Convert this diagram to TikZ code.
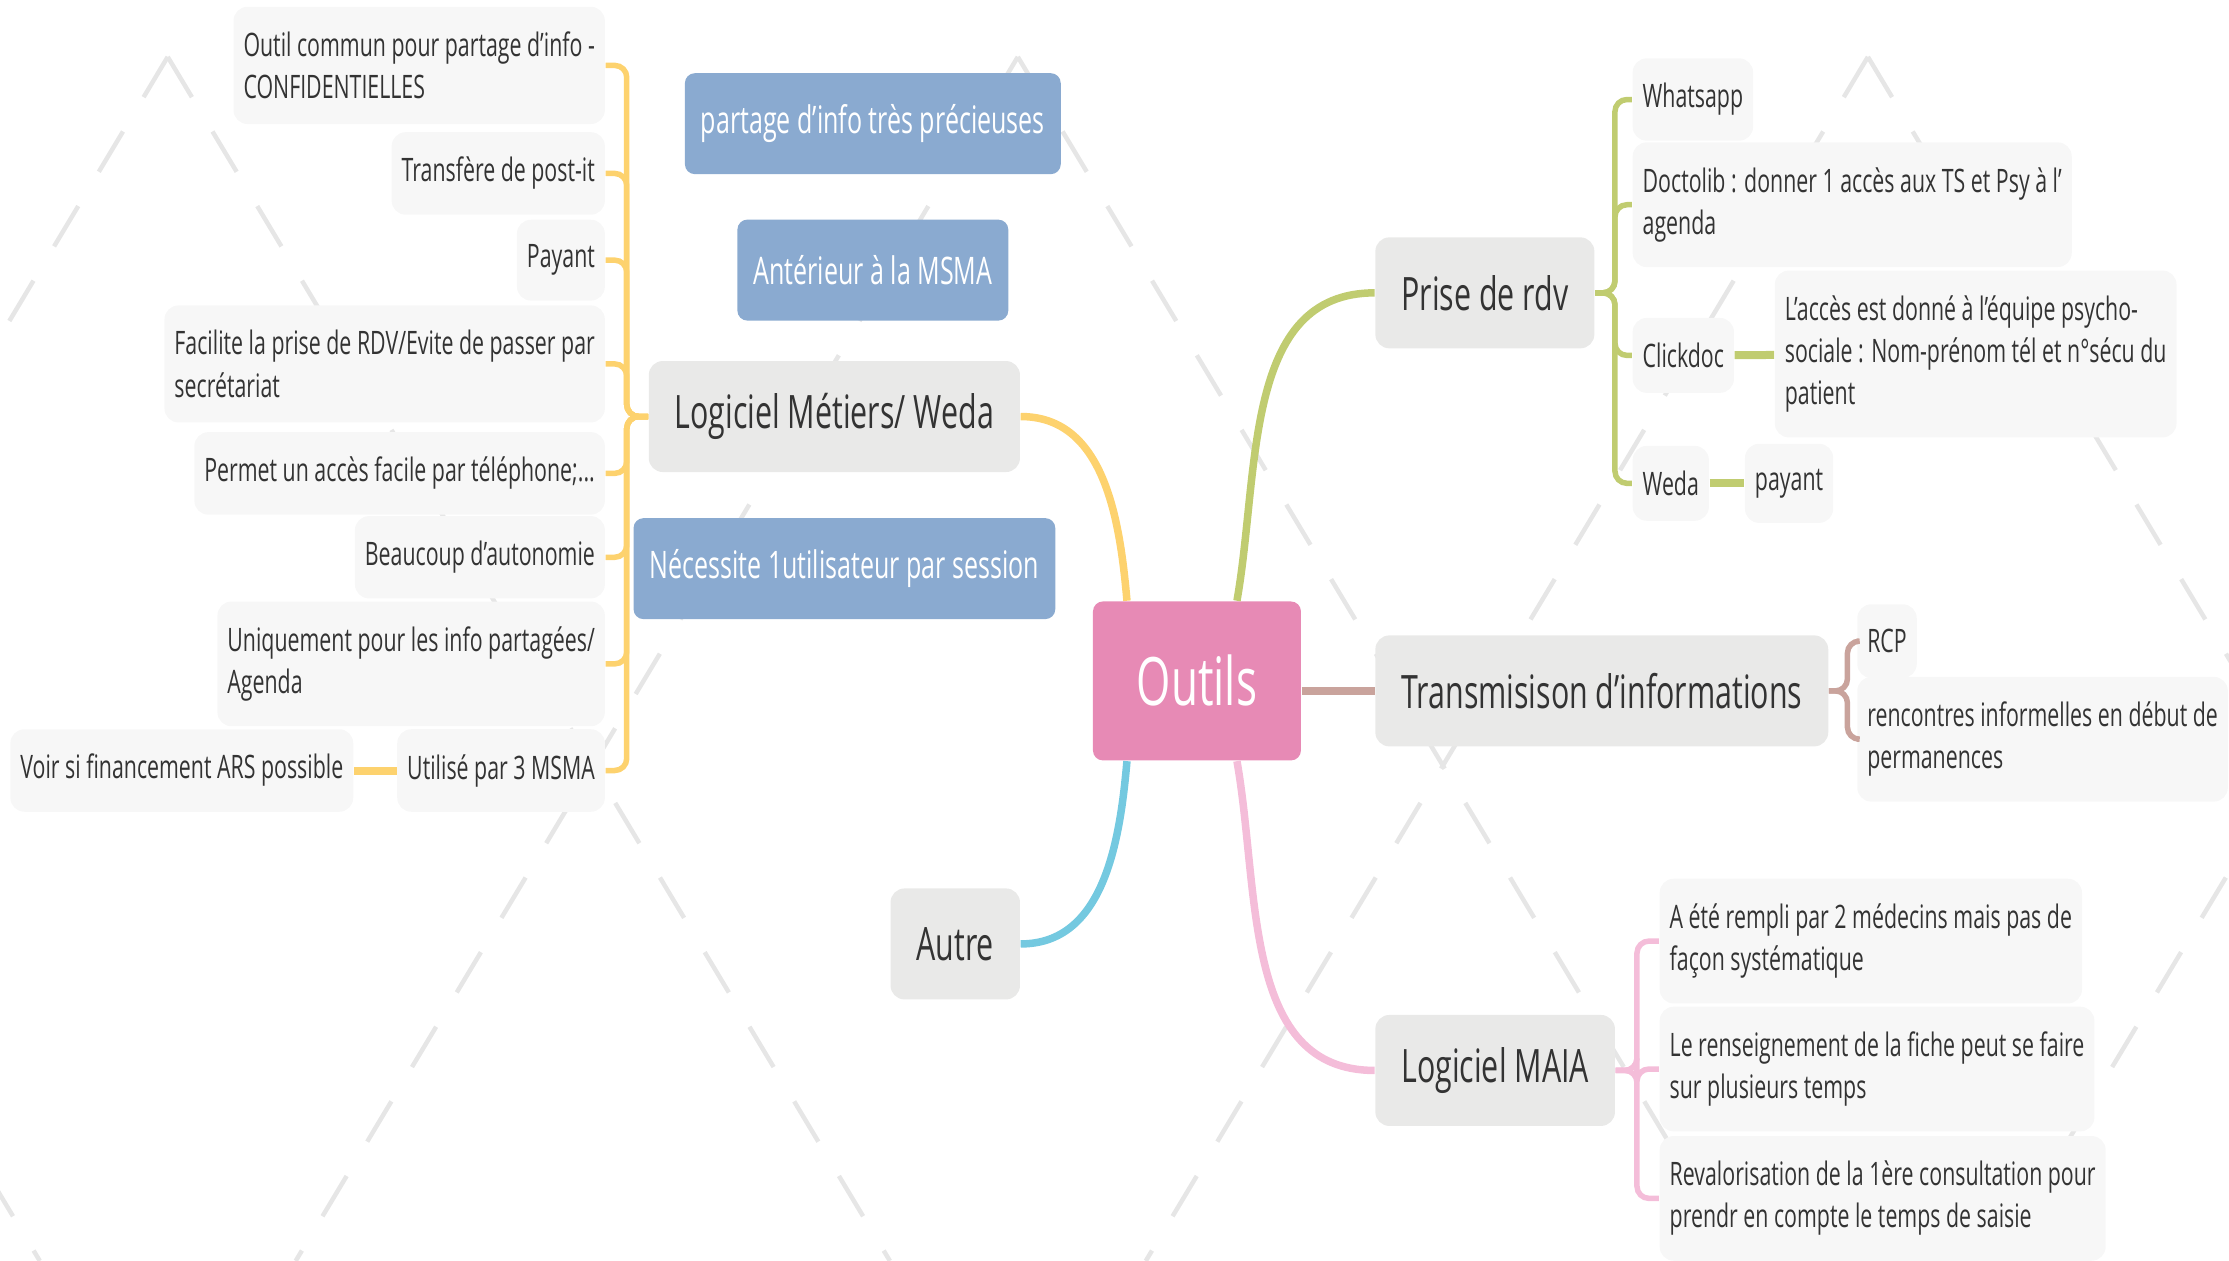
\documentclass[tikz,border=0pt]{standalone}
\usepackage{fontspec}
\setmainfont{Open Sans}[FakeStretch=0.66]
\usepackage{tikz}
\usetikzlibrary{
    backgrounds,  % background layers
    positioning,  % better custom positioning
}
\definecolor{txtdark}{HTML}{333333}
\definecolor{leafbg}{HTML}{F7F7F7}
\definecolor{mainbg}{HTML}{E9E9E8}
\definecolor{rootpink}{HTML}{E78AB5}
\definecolor{notebl}{HTML}{8AAAD0}
\definecolor{bryellow}{HTML}{FDD26E}
\definecolor{brgreen}{HTML}{C0CC70}
\definecolor{brbrown}{HTML}{C9A39C}
\definecolor{brpink}{HTML}{F4BDD9}
\definecolor{brcyan}{HTML}{74C9E0}
\definecolor{wmgray}{HTML}{E6E6E6}
\tikzset{
    leaf/.style={fill=leafbg, rounded corners=1.4mm, text=txtdark, align=left,
        font=\fontsize{9.2}{12}\selectfont, inner xsep=1mm, inner ysep=2.5mm},
    topic/.style={fill=mainbg, rounded corners=1.4mm, text=txtdark,
        font=\fontsize{13.1}{16}\selectfont, inner xsep=2.6mm, minimum height=11.1mm},
    root/.style={fill=rootpink, rounded corners=1mm, text=white,
        font=\fontsize{19}{22}\selectfont, minimum width=20.8mm, minimum height=15.9mm},
    note/.style={fill=notebl, rounded corners=1mm, text=white,
        font=\fontsize{10.8}{13}\selectfont, inner xsep=1.6mm, minimum height=10.1mm},
    trunk/.style={line width=0.75mm},
    fork/.style={line width=0.55mm, rounded corners=1.2mm},
    twig/.style={line width=0.8mm},
    wm/.style={wmgray, line width=0.45mm, dash pattern=on 4.7mm off 4mm},
}

\begin{document}
\begin{tikzpicture}[x=0.14216mm, y=-0.14216mm]
    \useasboundingbox (0,0) rectangle (1568,887);

    \node[root] (outils) at (842,479) {Outils};

    \node[topic, anchor=east] (logi) at (718,293) {Logiciel Métiers/ Weda};
    \node[topic, anchor=west] (prise) at (967,206) {Prise de rdv};
    \node[topic, anchor=west] (trans) at (967,486) {Transmisison d'informations};
    \node[topic, anchor=west] (maia) at (967,753) {Logiciel MAIA};
    \node[topic, anchor=east] (autre) at (718,664) {Autre};

    \node[note] (n1) at (614,87) {partage d'info très précieuses};
    \node[note] (n2) at (614,190) {Antérieur à la MSMA};
    \node[note] (n3) at (594,400) {Nécessite 1utilisateur par session};

    \node[leaf, anchor=east] (l1) at (426,46) {Outil commun pour partage d'info -\\CONFIDENTIELLES};
    \node[leaf, anchor=east] (l2) at (426,122) {Transfère de post-it};
    \node[leaf, anchor=east] (l3) at (426,183) {Payant};
    \node[leaf, anchor=east] (l4) at (426,256) {Facilite la prise de RDV/Evite de passer par\\secrétariat};
    \node[leaf, anchor=east] (l5) at (426,333) {Permet un accès facile par téléphone;...};
    \node[leaf, anchor=east] (l6) at (426,392) {Beaucoup d'autonomie};
    \node[leaf, anchor=east] (l7) at (426,467) {Uniquement pour les info partagées/\\Agenda};
    \node[leaf, anchor=east] (l8) at (426,542) {Utilisé par 3 MSMA};
    \node[leaf, anchor=east] (voir) at (249,542) {Voir si financement ARS possible};

    \node[leaf, anchor=west] (whats) at (1148,70) {Whatsapp};
    \node[leaf, anchor=west] (docto) at (1148,144) {Doctolib : donner 1 accès aux TS et Psy à l'\\agenda};
    \node[leaf, anchor=west] (click) at (1148,250) {Clickdoc};
    \node[leaf, anchor=west] (acces) at (1248,249) {L'accès est donné à l'équipe psycho-\\sociale : Nom-prénom tél et n°sécu du\\patient};
    \node[leaf, anchor=west] (weda) at (1148,340) {Weda};
    \node[leaf, anchor=west] (payant) at (1227,340) {payant};

    \node[leaf, anchor=west] (rcp) at (1306,451) {RCP};
    \node[leaf, anchor=west] (renc) at (1306,520) {rencontres informelles en début de\\permanences};

    \node[leaf, anchor=west] (m1) at (1167,662) {A été rempli par 2 médecins mais pas de\\façon systématique};
    \node[leaf, anchor=west] (m2) at (1167,752) {Le renseignement de la fiche peut se faire\\sur plusieurs temps};
    \node[leaf, anchor=west] (m3) at (1167,843) {Revalorisation de la 1ère consultation pour\\prendr en compte le temps de saisie};

    \begin{scope}[on background layer]
        \clip (0,0) rectangle (1568,887);
        \foreach \c in {-456,142,740,1338,1936,2534}
            \draw[wm] (\c-24,40) -- (\c-532,887);
        \foreach \c in {-504,94,692,1290,1888}
            \draw[wm] (\c+24,40) -- (\c+532,887);
    \end{scope}

    \draw[trunk, bryellow] ([xshift=-7mm]outils.north) to[out=95, in=0] (logi.east);
    \draw[trunk, brgreen] ([xshift=4mm]outils.north) to[out=80, in=180] (prise.west);
    \draw[trunk, brbrown] (outils.east |- trans.west) -- (trans.west);
    \draw[trunk, brpink] ([xshift=4mm]outils.south) to[out=-80, in=180] (maia.west);
    \draw[trunk, brcyan] ([xshift=-7mm]outils.south) to[out=-95, in=0] (autre.east);

    \foreach \n in {l1,l2,l3,l4,l5,l6,l7,l8}
        \draw[fork, bryellow] (logi.west) -- ++(-15,0) |- (\n.east);
    \draw[twig, bryellow] (l8) -- (voir);

    \foreach \n in {whats,docto,click,weda}
        \draw[fork, brgreen] (prise.east) -- ++(14,0) |- (\n.west);
    \draw[twig, brgreen] (click) -- (acces);
    \draw[twig, brgreen] (weda) -- (payant);

    \foreach \n in {rcp,renc}
        \draw[fork, brbrown] (trans.east) -- ++(13,0) |- (\n.west);

    \foreach \n in {m1,m2,m3}
        \draw[fork, brpink] (maia.east) -- ++(15,0) |- (\n.west);
\end{tikzpicture}
\end{document}
